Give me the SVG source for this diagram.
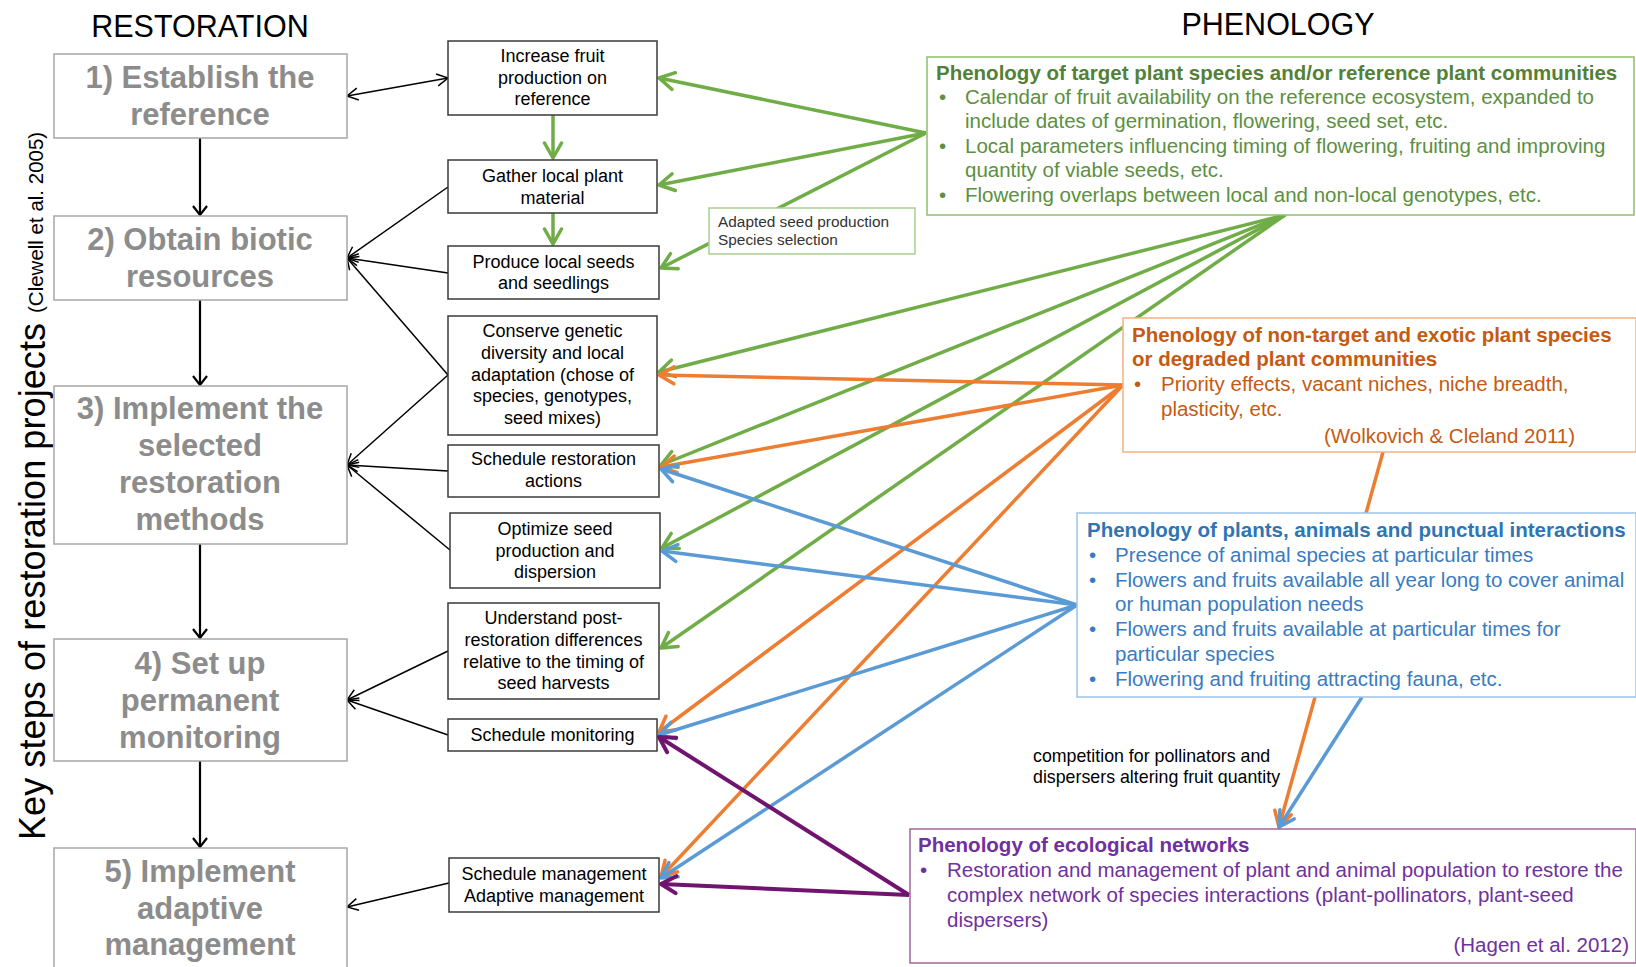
<svg xmlns="http://www.w3.org/2000/svg" width="1636" height="967" viewBox="0 0 1636 967">
<style>
.step rect{fill:#fff;stroke:#a6a6a6;stroke-width:1.5}
.step text{font-family:"Liberation Sans",Arial,sans-serif;font-weight:bold;font-size:31px;fill:#8c8c8c;text-anchor:middle}
.act rect{fill:#fff;stroke:#3a3a3a;stroke-width:1.5}
.act text{font-family:"Liberation Sans",Arial,sans-serif;font-size:18px;fill:#000;text-anchor:middle}
.ph text{font-family:"Liberation Sans",Arial,sans-serif;font-size:20.5px}
.ph .t{font-weight:bold}
.hdr{font-family:"Liberation Sans",Arial,sans-serif;font-size:30.5px;fill:#000;text-anchor:middle}
.k{fill:none;stroke:#000;stroke-width:1.5}
.kv{fill:none;stroke:#000;stroke-width:2.2}
.g{fill:none;stroke:#70ad47;stroke-width:3.5}
.o{fill:none;stroke:#ed7d31;stroke-width:3.5}
.b{fill:none;stroke:#5b9bd5;stroke-width:3.5}
.p{fill:none;stroke:#701470;stroke-width:4}
</style>
<defs>
<marker id="mk" markerUnits="userSpaceOnUse" viewBox="-14 -9 16 18" markerWidth="16" markerHeight="18" refX="0" refY="0" orient="auto-start-reverse"><path d="M-11,-6 L0,0 L-11,6" fill="none" stroke="#000" stroke-width="1.5"/></marker>
<marker id="mkv" markerUnits="userSpaceOnUse" viewBox="-14 -10 16 20" markerWidth="16" markerHeight="20" refX="0" refY="0" orient="auto"><path d="M-9,-7 L0,0 L-9,7" fill="none" stroke="#000" stroke-width="2.2"/></marker>
<marker id="mg" markerUnits="userSpaceOnUse" viewBox="-20 -12 22 24" markerWidth="22" markerHeight="24" refX="0" refY="0" orient="auto"><path d="M-15,-8.5 L0,0 L-15,8.5" fill="none" stroke="#70ad47" stroke-width="3.5" stroke-linecap="round" stroke-linejoin="round"/></marker>
<marker id="mo" markerUnits="userSpaceOnUse" viewBox="-20 -12 22 24" markerWidth="22" markerHeight="24" refX="0" refY="0" orient="auto"><path d="M-15,-8.5 L0,0 L-15,8.5" fill="none" stroke="#ed7d31" stroke-width="3.5" stroke-linecap="round" stroke-linejoin="round"/></marker>
<marker id="mb" markerUnits="userSpaceOnUse" viewBox="-20 -12 22 24" markerWidth="22" markerHeight="24" refX="0" refY="0" orient="auto"><path d="M-15,-8.5 L0,0 L-15,8.5" fill="none" stroke="#5b9bd5" stroke-width="3.5" stroke-linecap="round" stroke-linejoin="round"/></marker>
<marker id="mp" markerUnits="userSpaceOnUse" viewBox="-20 -12 22 24" markerWidth="22" markerHeight="24" refX="0" refY="0" orient="auto"><path d="M-15,-8.5 L0,0 L-15,8.5" fill="none" stroke="#701470" stroke-width="4" stroke-linecap="round" stroke-linejoin="round"/></marker>
</defs>
<rect width="1636" height="967" fill="#fff"/>

<text class="hdr" x="200" y="37">RESTORATION</text>
<text class="hdr" x="1278" y="35">PHENOLOGY</text>
<text transform="translate(45,840) rotate(-90)" font-family="'Liberation Sans',Arial,sans-serif" font-size="36" fill="#000" textLength="517" lengthAdjust="spacing">Key steps of restoration projects</text>
<text transform="translate(43,313) rotate(-90)" font-family="'Liberation Sans',Arial,sans-serif" font-size="20.5" fill="#000">(Clewell et al. 2005)</text>

<g id="connectors">
<path class="kv" d="M200,138 L200,215" marker-end="url(#mkv)"/>
<path class="kv" d="M200,300 L200,385" marker-end="url(#mkv)"/>
<path class="kv" d="M200,544 L200,638" marker-end="url(#mkv)"/>
<path class="kv" d="M200,761 L200,847" marker-end="url(#mkv)"/>
<path class="k" d="M347,96 L448,78" marker-start="url(#mk)" marker-end="url(#mk)"/>
<path class="k" d="M448,187 L347,258" marker-end="url(#mk)"/>
<path class="k" d="M448,273 L347,258" marker-end="url(#mk)"/>
<path class="k" d="M448,375 L347,258" marker-end="url(#mk)"/>
<path class="k" d="M448,375 L347,465" marker-end="url(#mk)"/>
<path class="k" d="M448,471 L347,465" marker-end="url(#mk)"/>
<path class="k" d="M450,550 L347,465" marker-end="url(#mk)"/>
<path class="k" d="M448,651 L347,700" marker-end="url(#mk)"/>
<path class="k" d="M448,735 L347,700" marker-end="url(#mk)"/>
<path class="k" d="M449,883 L347,907" marker-end="url(#mk)"/>
<path class="g" d="M553,115 L553,158" marker-end="url(#mg)"/>
<path class="g" d="M553,213 L553,244" marker-end="url(#mg)"/>
<path class="g" d="M926,133 L659,78" marker-end="url(#mg)"/>
<path class="g" d="M926,133 L659,185" marker-end="url(#mg)"/>
<path class="g" d="M926,133 L661,268" marker-end="url(#mg)"/>
<path class="g" d="M1285,215 L659,372" marker-end="url(#mg)"/>
<path class="g" d="M1285,215 L661,465" marker-end="url(#mg)"/>
<path class="g" d="M1285,215 L662,548" marker-end="url(#mg)"/>
<path class="g" d="M1285,215 L661,648" marker-end="url(#mg)"/>
<path class="o" d="M1123,385 L659,375" marker-end="url(#mo)"/>
<path class="o" d="M1123,385 L661,467" marker-end="url(#mo)"/>
<path class="o" d="M1123,385 L659,732" marker-end="url(#mo)"/>
<path class="o" d="M1123,385 L661,877" marker-end="url(#mo)"/>
<path class="o" d="M1383,452 L1279,827" marker-end="url(#mo)"/>
<path class="b" d="M1077,605 L661,469" marker-end="url(#mb)"/>
<path class="b" d="M1077,605 L662,551" marker-end="url(#mb)"/>
<path class="b" d="M1077,605 L659,735" marker-end="url(#mb)"/>
<path class="b" d="M1077,605 L661,878" marker-end="url(#mb)"/>
<path class="b" d="M1362,697 L1279,827" marker-end="url(#mb)"/>
<path class="p" d="M909,895 L659,737" marker-end="url(#mp)"/>
<path class="p" d="M909,895 L661,884" marker-end="url(#mp)"/>
</g>

<g id="step1" class="step"><rect x="54" y="54" width="293" height="84"/><text x="200" y="88">1) Establish the</text><text x="200" y="125">reference</text></g>
<g id="step2" class="step"><rect x="54" y="216" width="293" height="84"/><text x="200" y="250">2) Obtain biotic</text><text x="200" y="287">resources</text></g>
<g id="step3" class="step"><rect x="54" y="386" width="293" height="158"/><text x="200" y="419">3) Implement the</text><text x="200" y="456">selected</text><text x="200" y="493">restoration</text><text x="200" y="530">methods</text></g>
<g id="step4" class="step"><rect x="54" y="639" width="293" height="122"/><text x="200" y="674">4) Set up</text><text x="200" y="711">permanent</text><text x="200" y="748">monitoring</text></g>
<g id="step5" class="step"><rect x="54" y="848" width="293" height="130"/><text x="200" y="882">5) Implement</text><text x="200" y="919">adaptive</text><text x="200" y="955">management</text></g>

<g id="actA" class="act"><rect x="448" y="41" width="209" height="74"/><text x="552.5" y="62">Increase fruit</text><text x="552.5" y="83.5">production on</text><text x="552.5" y="105">reference</text></g>
<g id="actB" class="act"><rect x="448" y="160" width="209" height="53"/><text x="552.5" y="182">Gather local plant</text><text x="552.5" y="203.5">material</text></g>
<g id="actC" class="act"><rect x="448" y="246" width="211" height="53"/><text x="553.5" y="267.5">Produce local seeds</text><text x="553.5" y="289">and seedlings</text></g>
<g id="actD" class="act"><rect x="448" y="316" width="209" height="119"/><text x="552.5" y="337">Conserve genetic</text><text x="552.5" y="359">diversity and local</text><text x="552.5" y="380.5">adaptation (chose of</text><text x="552.5" y="402">species, genotypes,</text><text x="552.5" y="424">seed mixes)</text></g>
<g id="actE" class="act"><rect x="448" y="445" width="211" height="52"/><text x="553.5" y="465">Schedule restoration</text><text x="553.5" y="487">actions</text></g>
<g id="actF" class="act"><rect x="450" y="513" width="210" height="75"/><text x="555" y="535">Optimize seed</text><text x="555" y="557">production and</text><text x="555" y="578">dispersion</text></g>
<g id="actG" class="act"><rect x="448" y="603" width="211" height="96"/><text x="553.5" y="624">Understand post-</text><text x="553.5" y="646">restoration differences</text><text x="553.5" y="668">relative to the timing of</text><text x="553.5" y="689">seed harvests</text></g>
<g id="actH" class="act"><rect x="448" y="719" width="209" height="32"/><text x="552.5" y="741">Schedule monitoring</text></g>
<g id="actI" class="act"><rect x="449" y="858" width="210" height="54"/><text x="554" y="880">Schedule management</text><text x="554" y="902">Adaptive management</text></g>

<g id="seedbox"><rect x="709" y="208" width="206" height="46" fill="#fff" stroke="#a9d18e" stroke-width="1.5"/><text x="718" y="227" font-family="'Liberation Sans',Arial,sans-serif" font-size="15.4" fill="#333">Adapted seed production</text><text x="718" y="245" font-family="'Liberation Sans',Arial,sans-serif" font-size="15.4" fill="#333">Species selection</text></g>

<g id="phenTarget" class="ph"><rect x="927" y="57" width="707" height="158" fill="#fff" stroke="#8cc068" stroke-width="1.5"/>
<text class="t" x="936" y="80" fill="#538135">Phenology of target plant species and/or reference plant communities</text>
<g fill="#5b9040"><text x="939" y="104">•</text><text x="965" y="104">Calendar of fruit availability on the reference ecosystem, expanded  to</text>
<text x="965" y="128">include dates of germination,  flowering, seed set, etc.</text>
<text x="939" y="153">•</text><text x="965" y="153">Local parameters influencing timing of flowering, fruiting and improving</text>
<text x="965" y="177">quantity  of viable seeds, etc.</text>
<text x="939" y="202">•</text><text x="965" y="202">Flowering overlaps between local and non-local genotypes, etc.</text></g></g>

<g id="phenExotic" class="ph"><rect x="1123" y="318" width="513" height="134" fill="#fff" stroke="#f4b183" stroke-width="1.5"/>
<g fill="#c55a11"><text class="t" x="1132" y="342">Phenology of non-target and exotic plant species</text>
<text class="t" x="1132" y="366">or degraded plant communities</text>
<text x="1134" y="391">•</text><text x="1161" y="391">Priority effects, vacant niches, niche breadth,</text>
<text x="1161" y="416">plasticity, etc.</text>
<text x="1575" y="443" text-anchor="end">(Wolkovich &amp; Cleland  2011)</text></g></g>

<g id="phenInteractions" class="ph"><rect x="1077" y="513" width="559" height="184" fill="#fff" stroke="#9dc3e6" stroke-width="1.5"/>
<text class="t" x="1087" y="537" fill="#2e75b6">Phenology of plants, animals and punctual interactions</text>
<g fill="#3a7bbf"><text x="1089" y="562">•</text><text x="1115" y="562">Presence of animal species at particular times</text>
<text x="1089" y="587">•</text><text x="1115" y="587">Flowers and fruits available all year long to cover animal</text>
<text x="1115" y="611">or human  population  needs</text>
<text x="1089" y="636">•</text><text x="1115" y="636">Flowers and fruits available at particular times for</text>
<text x="1115" y="661">particular  species</text>
<text x="1089" y="686">•</text><text x="1115" y="686">Flowering  and  fruiting  attracting fauna, etc.</text></g></g>

<g id="phenNetworks" class="ph"><rect x="910" y="829" width="726" height="134" fill="#fff" stroke="#a064a0" stroke-width="1.5"/>
<g fill="#7030a0"><text class="t" x="918" y="852">Phenology of ecological networks</text>
<text x="920" y="877">•</text><text x="947" y="877">Restoration and management  of plant and animal population to restore the</text>
<text x="947" y="902">complex network of species interactions (plant-pollinators,  plant-seed</text>
<text x="947" y="927">dispersers)</text>
<text x="1629" y="952" text-anchor="end">(Hagen et al. 2012)</text></g></g>

<g id="competitionLabel" font-family="'Liberation Sans',Arial,sans-serif" font-size="17.8" fill="#000"><text x="1033" y="762">competition for pollinators and</text><text x="1033" y="783">dispersers altering fruit quantity</text></g>
</svg>
